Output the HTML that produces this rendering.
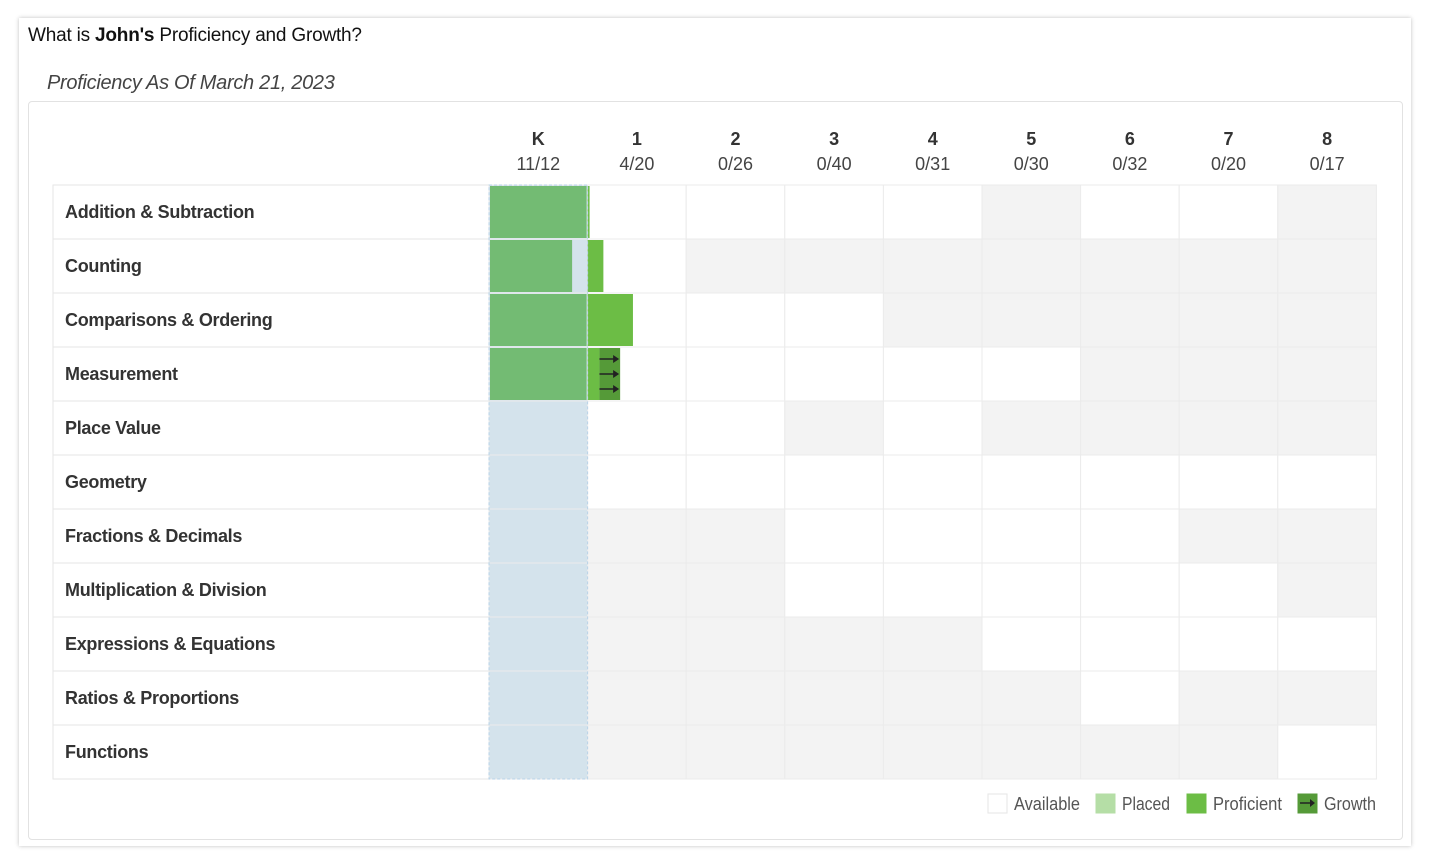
<!DOCTYPE html>
<html><head><meta charset="utf-8"><style>
body{margin:0;width:1431px;height:865px;background:#fff;font-family:"Liberation Sans",sans-serif;overflow:hidden;position:relative}
.card{position:absolute;left:19px;top:18px;width:1392px;height:828px;background:#fff;box-shadow:0 0 4px rgba(0,0,0,.25)}
.title{position:absolute;left:28px;top:25px;font-size:19px;color:#111;letter-spacing:-0.2px}
.sub{position:absolute;left:47px;top:72px;font-size:20px;font-style:italic;color:#444;letter-spacing:-0.3px}
.inner{position:absolute;left:28px;top:101px;width:1373px;height:737px;border:1px solid #e2e2e2;border-radius:4px}
svg{position:absolute;left:0;top:0}
</style></head><body>
<div class="card"></div>
<div class="title">What is <b>John's</b> Proficiency and Growth?</div>
<div class="sub">Proficiency As Of March 21, 2023</div>
<div class="inner"></div>
<svg id="chart" width="1431" height="865"></svg>
<script>
const grades=["K","1","2","3","4","5","6","7","8"];
const gradeCounts=["11/12","4/20","0/26","0/40","0/31","0/30","0/32","0/20","0/17"];
const domains=["Addition & Subtraction","Counting","Comparisons & Ordering","Measurement","Place Value","Geometry","Fractions & Decimals","Multiplication & Division","Expressions & Equations","Ratios & Proportions","Functions"];
// 1 = available, 0 = not available
const availability=[
[1,1,1,1,1,0,1,1,0],
[1,1,0,0,0,0,0,0,0],
[1,1,1,1,0,0,0,0,0],
[1,1,1,1,1,1,0,0,0],
[1,1,1,0,1,0,0,0,0],
[1,1,1,1,1,1,1,1,1],
[1,0,0,1,1,1,1,0,0],
[1,0,0,1,1,1,1,1,0],
[1,0,0,0,0,1,1,1,1],
[1,0,0,0,0,0,1,0,0],
[1,0,0,0,0,0,0,0,1]];
// fraction of each grade proficient: [K, grade1]
const profK=[1,0.85,1,1,0,0,0,0,0,0,0];
const prof1=[0.02,0.16,0.46,0.12,0,0,0,0,0,0,0];
const growth1=[0,0,0,0.21,0,0,0,0,0,0,0];
const placedGrade=0;

const svg=document.getElementById('chart');const NS="http://www.w3.org/2000/svg";
const x0=489,cw=98.6,y0=185,rh=54,lx=53;
const xs=i=>x0+i*cw, ys=r=>y0+r*rh;
function el(t,a,p){const e=document.createElementNS(NS,t);for(const k in a)e.setAttribute(k,a[k]);(p||svg).appendChild(e);return e;}
grades.forEach((g,i)=>{
 const t=el('text',{x:xs(i)+cw/2,y:145,'text-anchor':'middle','font-size':18,fill:'#333','font-weight':'bold'});t.textContent=g;
 
 
 const c=el('text',{x:xs(i)+cw/2,y:170,'text-anchor':'middle','font-size':18,fill:'#444'});c.textContent=gradeCounts[i];
 
 
});
domains.forEach((d,r)=>{
 const row=el('rect',{x:lx,y:ys(r),width:x0-lx,height:rh,fill:'#fff',stroke:'#e6e6e6'});
 
 
 const t=el('text',{x:65,y:ys(r)+33,'font-size':18,fill:'#333','font-weight':'bold','letter-spacing':'-0.3'});t.textContent=d;
 
 
 grades.forEach((g,i)=>{
  let f=availability[r][i]?'#fff':'#f3f3f3';
  if(i===placedGrade) f='#d4e3ec';
  const c=el('rect',{x:xs(i),y:ys(r),width:cw,height:rh,fill:f,stroke:'#ebebeb'});
  
  
 });
});
domains.forEach((d,r)=>{
 if(profK[r]>0){const b=el('rect',{x:xs(0)+1,y:ys(r)+1,width:(cw-2)*profK[r],height:rh-2,fill:'#73bb73'});
  
  }
 if(prof1[r]>0){const b=el('rect',{x:xs(1),y:ys(r)+1,width:cw*prof1[r],height:rh-2,fill:'#6cbd45'});
  
  }
 if(growth1[r]>0){const gx=xs(1)+cw*prof1[r],gw=cw*growth1[r];
  const b=el('rect',{x:gx,y:ys(r)+1,width:gw,height:rh-2,fill:'#559a38'});
  
  
  [12,27,42].forEach(o=>{el('line',{x1:gx,y1:ys(r)+o,x2:gx+gw-5,y2:ys(r)+o,stroke:'#222','stroke-width':1.5});
   el('path',{d:`M${gx+gw-7} ${ys(r)+o-4}L${gx+gw-1} ${ys(r)+o}L${gx+gw-7} ${ys(r)+o+4}Z`,fill:'#222'});});
 }
});
const pb=el('rect',{x:xs(placedGrade),y:y0,width:cw,height:rh*domains.length,fill:'none',stroke:'#b8d3e8','stroke-dasharray':'3,2'});


const leg=[["Available","#fff",988,66],["Placed","#b5dea6",1096,48],["Proficient","#6cbd45",1187,69],["Growth","#559a38",1298,52]];
leg.forEach(([n,c,x,w])=>{
 const s=el('rect',{x:x,y:794,width:19,height:19,fill:c,stroke:c==='#fff'?'#e5e5e5':c});
 
 
 if(n==='Growth'){el('line',{x1:x+2,y1:803,x2:x+13,y2:803,stroke:'#222','stroke-width':1.5});el('path',{d:`M${x+12} 799L${x+17} 803L${x+12} 807Z`,fill:'#222'});}
 const t=el('text',{x:x+26,y:810,'font-size':18,fill:'#555',textLength:w,lengthAdjust:'spacingAndGlyphs'});t.textContent=n;
 
 
});
</script>
</body></html>
